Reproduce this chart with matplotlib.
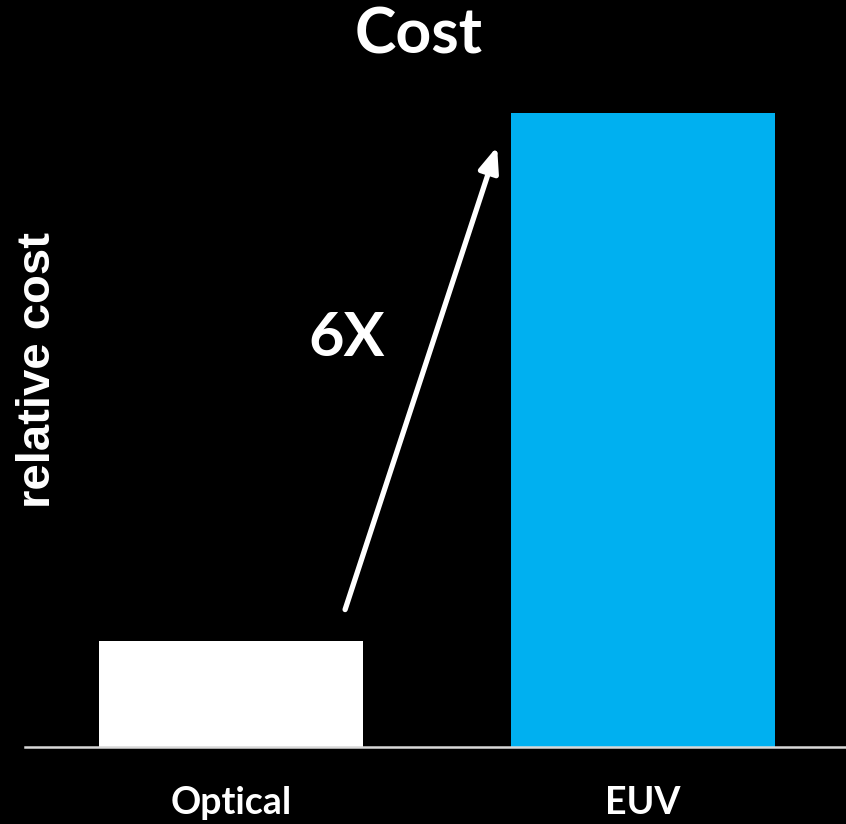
import matplotlib.pyplot as plt

categories = ["Optical", "EUV"]
relative_cost = [1, 6]
bar_colors = ["#ffffff", "#00b0f0"]
ratio_label = "6X"

fig = plt.figure(figsize=(8.46, 8.24), dpi=100, facecolor="black")
ax = fig.add_axes([25 / 846, 77 / 824, 821 / 846, 666 / 824], facecolor="black")

x = range(len(categories))
ax.bar(x, relative_cost, width=0.64, color=bar_colors, zorder=2)

ax.set_xlim(-0.5, 1.493)
ax.set_ylim(0, 6.3)

for side in ["left", "right", "top"]:
    ax.spines[side].set_visible(False)
ax.spines["bottom"].set_color("#d9d9d9")
ax.spines["bottom"].set_linewidth(1.8)

ax.set_yticks([])
ax.set_xticks(list(x))
ax.set_xticklabels(categories, fontfamily="Lato", fontweight="bold", fontsize=27, color="white")
ax.tick_params(axis="x", length=0, pad=28)

fig.text(38 / 846, 1 - 370 / 824, "relative cost", rotation=90, ha="center", va="center",
         fontfamily="Liberation Sans", fontweight="bold", fontsize=34, color="white")
fig.text(419 / 846, 1 - 36 / 824, "Cost", ha="center", va="center",
         fontfamily="Lato", fontweight="bold", fontsize=45, color="white")

# growth arrow from the optical bar toward the EUV bar
ax.annotate("", xy=(0.646, 5.68), xytext=(0.277, 1.30),
            arrowprops=dict(arrowstyle="-|>,head_length=1.5,head_width=0.6",
                            color="white", lw=3.8, shrinkA=0, shrinkB=0))
ax.text(0.28, 3.87, ratio_label, ha="center", va="center",
        fontfamily="Lato", fontweight="bold", fontsize=44, color="white")

fig.savefig("out.png", dpi=100, facecolor="black")
